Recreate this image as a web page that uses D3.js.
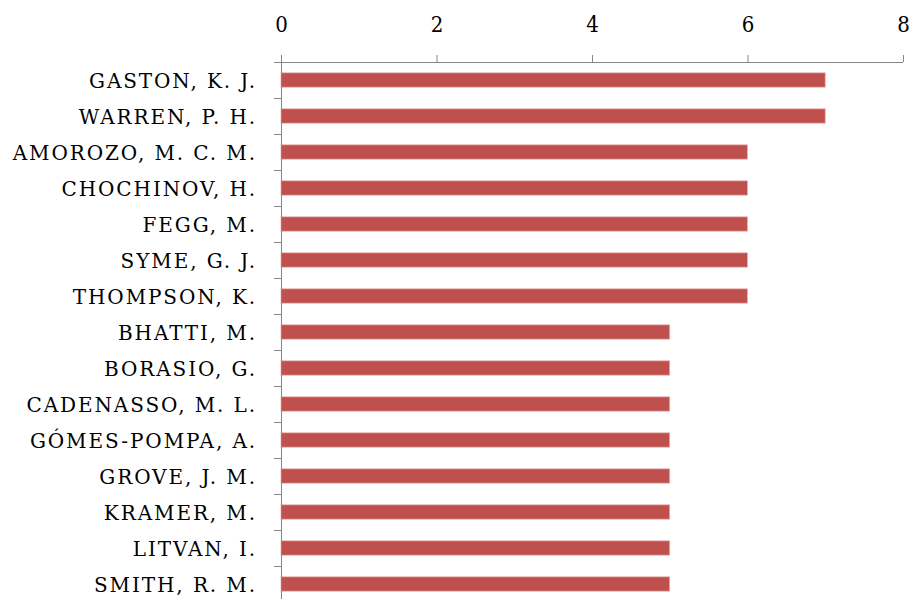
<!DOCTYPE html>
<html>
<head>
<meta charset="utf-8">
<script src="https://cdn.jsdelivr.net/npm/d3@7"></script>
<style>
  html, body { margin: 0; padding: 0; background: #fff; }
  svg { display: block; }
  .lbl { font-family: "DejaVu Serif", serif; font-size: 20px; letter-spacing: 1.9px; fill: #000; }
  .num { font-family: "DejaVu Serif", serif; font-stretch: condensed; font-size: 22px; fill: #000; }
</style>
</head>
<body>
<svg id="chart" width="913" height="599"></svg>
<script>
// Authors and their publication counts
const authors = [
  "GASTON, K. J.", "WARREN, P. H.", "AMOROZO, M. C. M.", "CHOCHINOV, H.",
  "FEGG, M.", "SYME, G. J.", "THOMPSON, K.", "BHATTI, M.", "BORASIO, G.",
  "CADENASSO, M. L.", "GÓMES-POMPA, A.", "GROVE, J. M.", "KRAMER, M.",
  "LITVAN, I.", "SMITH, R. M."
];
const counts = [7, 7, 6, 6, 6, 6, 6, 5, 5, 5, 5, 5, 5, 5, 5];
const xTicks = [0, 2, 4, 6, 8];

const svg = d3.select("#chart");
const plotLeft = 281, plotRight = 903, plotTop = 62, band = 36;
const plotBottom = plotTop + band * authors.length;

const x = d3.scaleLinear().domain([0, 8]).range([plotLeft, plotRight]);
const y = d3.scaleBand().domain(authors).range([plotTop, plotBottom]).paddingInner(0.6).paddingOuter(0.3);

const axisColor = "#868686";

// Bars
svg.append("g").selectAll("rect").data(authors).join("rect")
  .attr("x", x(0))
  .attr("y", d => y(d))
  .attr("width", (d, i) => x(counts[i]) - x(0))
  .attr("height", y.bandwidth())
  .attr("fill", "#C0504D")
  .attr("stroke", "#E6B9B8")
  .attr("stroke-width", 0.8);

// Top value axis
const xAxis = svg.append("g").attr("transform", `translate(0,${plotTop})`)
  .call(d3.axisTop(x).tickValues(xTicks).tickSize(7).tickPadding(23).tickFormat(d3.format("d")));
xAxis.select(".domain").attr("stroke", axisColor).attr("d", `M${plotLeft},0.5H${plotRight}`);
xAxis.selectAll(".tick line").attr("stroke", axisColor);
xAxis.selectAll(".tick text").attr("class", "num").attr("fill", "#000");

// Category axis with ticks between bands
const yAxisG = svg.append("g").attr("transform", `translate(${plotLeft},0)`);
yAxisG.append("line").attr("x1", 0.5).attr("x2", 0.5).attr("y1", plotTop).attr("y2", plotBottom).attr("stroke", axisColor);
yAxisG.selectAll("line.sep").data(d3.range(authors.length + 1)).join("line")
  .attr("class", "sep")
  .attr("x1", -7).attr("x2", 0)
  .attr("y1", i => plotTop + i * band + 0.5).attr("y2", i => plotTop + i * band + 0.5)
  .attr("stroke", axisColor);
yAxisG.selectAll("text").data(authors).join("text")
  .attr("class", "lbl")
  .attr("x", -24)
  .attr("y", d => y(d) + y.bandwidth() / 2)
  .attr("dy", "0.38em")
  .attr("text-anchor", "end")
  .text(d => d);
</script>
</body>
</html>
